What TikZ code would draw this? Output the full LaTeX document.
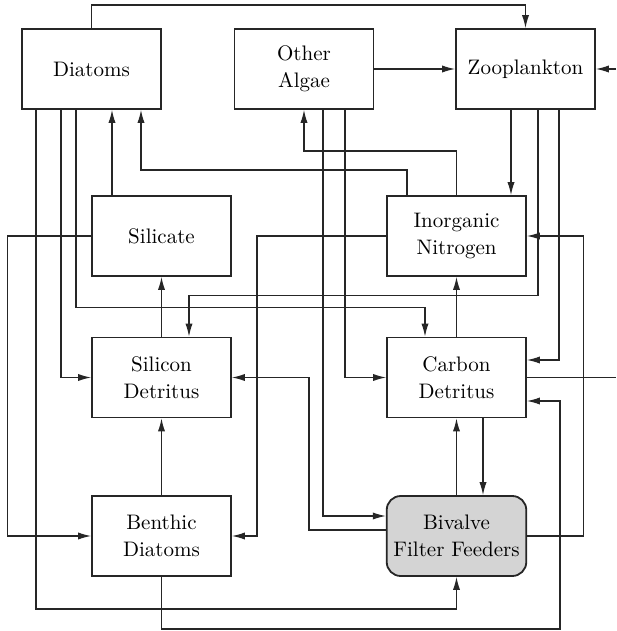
\documentclass[tikz,border=0pt]{standalone}
\usepackage{tikz}
\usetikzlibrary{positioning,calc,arrows.meta}

\begin{document}
\begin{tikzpicture}[
    x=0.5pt, y=-0.5pt,
    box/.style={rectangle, draw=black!85, line width=0.9pt, minimum width=69.5pt, minimum height=40pt, align=center, font=\fontsize{10.5}{13.5}\selectfont},
    feeder/.style={box, rounded corners=7pt, fill=black!17},
    flow/.style={-{Latex[length=6.5pt,width=3.6pt]}, line width=0.6pt, draw=black!85},
    plain/.style={line width=0.6pt, draw=black!85}
]
    \useasboundingbox (0,0) rectangle (616,631);

    \node[box] (dia) at (91.5, 69) {Diatoms};
    \node[box] (alg) at (304, 69) {Other\\Algae};
    \node[box] (zoo) at (525.5, 69) {Zooplankton};
    \node[box] (sil) at (161.5, 236) {Silicate};
    \node[box] (nit) at (456.5, 236) {Inorganic\\Nitrogen};
    \node[box] (sid) at (161.5, 377.5) {Silicon\\Detritus};
    \node[box] (cad) at (456.5, 377.5) {Carbon\\Detritus};
    \node[box] (bed) at (161.5, 536) {Benthic\\Diatoms};
    \node[feeder] (biv) at (456.5, 536) {Bivalve\\Filter Feeders};

    \coordinate (zin) at (616, 69);
    \coordinate (cout) at (616, 377.5);

    % straight links
    \foreach \a/\b in {sid/sil, bed/sid, biv/cad, cad/nit} {
        \draw[flow] (\a.north) -- (\b.south);
    }
    \draw[flow] (alg.east) -- (zoo.west);
    \draw[flow] (zin) -- (zoo.east);
    \draw[plain] (cad.east) -- (cout);
    \draw[flow] ($(cad.south)+(26.5,0)$) -- ($(biv.north)+(26.5,0)$);
    \draw[flow] ($(sil.north)+(-49.5,0)$) -- ($(dia.south)+(20.5,0)$);
    \draw[flow] ($(zoo.south)+(-14.5,0)$) -- ($(nit.north)+(54.5,0)$);

    % from diatoms
    \draw[flow] (dia.north) -- ++(0,-23) -| (zoo.north);
    \draw[flow] ($(dia.south)+(-55.5,0)$) |- ($(biv.south)+(0,32)$) -- (biv.south);
    \draw[flow] ($(dia.south)+(-30.5,0)$) |- (sid.west);
    \draw[flow] ($(dia.south)+(-15.5,0)$) |- ($(cad.north)+(-31.5,-29)$) -- ($(cad.north)+(-31.5,0)$);

    % from other algae and zooplankton
    \draw[flow] ($(alg.south)+(41,0)$) |- (cad.west);
    \draw[flow] ($(alg.south)+(19,0)$) |- ($(biv.west)+(0,-20)$);
    \draw[flow] ($(zoo.south)+(12.5,0)$) |- ($(sid.north)+(27.5,-41)$) -- ($(sid.north)+(27.5,0)$);
    \draw[flow] ($(zoo.south)+(33.5,0)$) |- ($(cad.east)+(0,-17.5)$);

    % from inorganic nitrogen and silicate
    \draw[flow] ($(nit.north)+(-49.5,0)$) |- ($(dia.south)+(49.5,60)$) -- ($(dia.south)+(49.5,0)$);
    \draw[flow] (nit.north) |- ($(alg.south)+(0,41)$) -- (alg.south);
    \draw[flow] (nit.west) -| ($(bed.east)+(25,0)$) -- (bed.east);
    \draw[flow] (sil.west) -- ++(-84,0) |- (bed.west);

    % from bivalves and benthic diatoms
    \draw[flow] (biv.east) -- ++(56,0) |- (nit.east);
    \draw[flow] ($(biv.west)+(0,-6)$) -| ($(sid.east)+(77,0)$) -- (sid.east);
    \draw[flow] (bed.south) -- ++(0,52) -| ($(cad.east)+(33,23.5)$) -- ($(cad.east)+(0,23.5)$);
\end{tikzpicture}
\end{document}
